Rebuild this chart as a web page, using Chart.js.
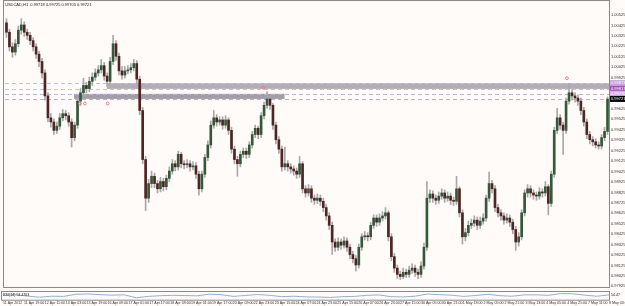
<!DOCTYPE html>
<html>
<head>
<meta charset="utf-8">
<script src="https://cdn.jsdelivr.net/npm/chart.js@4.4.1/dist/chart.umd.min.js"></script>
<style>
  html, body { margin: 0; padding: 0; background: #fffbf9; }
  #wrap { position: relative; width: 625px; height: 306px; overflow: hidden; background: #fffbf9; }
  canvas { position: absolute; left: 0; }
  #main { top: 0; }
  #ind { top: 291px; }
</style>
</head>
<body>
<div id="wrap">
  <canvas id="main" width="625" height="292"></canvas>
  <canvas id="ind" width="625" height="15"></canvas>
</div>
<script>
// USDCAD candles (one candle per ~3 px)
const opens = [
  1.0045, 1.0036, 1.0022, 1.0017, 1.0025, 1.0038, 1.0043, 1.0036, 1.0033, 1.0028,
  1.0022, 1.0015, 1.0008, 0.9997, 0.9975, 0.9954, 0.9950, 0.9942, 0.9946, 0.9954,
  0.9958, 0.9956, 0.9950, 0.9935, 0.9947, 0.9970, 0.9978, 0.9985, 0.9982, 0.9989,
  0.9993, 0.9997, 1.0000, 1.0004, 0.9994, 0.9989, 1.0008, 1.0025, 1.0013, 0.9999,
  0.9995, 0.9999, 1.0000, 1.0002, 1.0006, 0.9991, 0.9961, 0.9914, 0.9877, 0.9891,
  0.9898, 0.9891, 0.9886, 0.9893, 0.9888, 0.9896, 0.9903, 0.9910, 0.9907, 0.9919,
  0.9910, 0.9909, 0.9910, 0.9907, 0.9908, 0.9900, 0.9886, 0.9900, 0.9916, 0.9928,
  0.9947, 0.9954, 0.9950, 0.9952, 0.9947, 0.9952, 0.9942, 0.9924, 0.9914, 0.9910,
  0.9919, 0.9922, 0.9919, 0.9928, 0.9938, 0.9944, 0.9938, 0.9956, 0.9966, 0.9972,
  0.9966, 0.9947, 0.9933, 0.9924, 0.9907, 0.9910, 0.9907, 0.9905, 0.9903, 0.9900,
  0.9910, 0.9886, 0.9882, 0.9886, 0.9877, 0.9875, 0.9877, 0.9874, 0.9868, 0.9860,
  0.9851, 0.9835, 0.9830, 0.9835, 0.9832, 0.9836, 0.9830, 0.9823, 0.9819, 0.9813,
  0.9830, 0.9840, 0.9841, 0.9840, 0.9851, 0.9858, 0.9854, 0.9858, 0.9860, 0.9863,
  0.9840, 0.9821, 0.9810, 0.9804, 0.9802, 0.9806, 0.9804, 0.9808, 0.9810, 0.9806,
  0.9804, 0.9812, 0.9830, 0.9877, 0.9881, 0.9877, 0.9875, 0.9879, 0.9882, 0.9877,
  0.9879, 0.9875, 0.9874, 0.9886, 0.9863, 0.9840, 0.9844, 0.9851, 0.9853, 0.9856,
  0.9851, 0.9855, 0.9858, 0.9877, 0.9891, 0.9886, 0.9868, 0.9863, 0.9860, 0.9856,
  0.9858, 0.9854, 0.9847, 0.9835, 0.9840, 0.9863, 0.9882, 0.9886, 0.9882, 0.9880,
  0.9879, 0.9883, 0.9882, 0.9888, 0.9872, 0.9900, 0.9942, 0.9954, 0.9947, 0.9942,
  0.9970, 0.9978, 0.9975, 0.9973, 0.9970, 0.9961, 0.9950, 0.9938, 0.9933, 0.9931,
  0.9928, 0.9927, 0.9935, 0.9941
];
const highs = [
  1.0049, 1.0039, 1.0026, 1.0029, 1.0042, 1.0049, 1.0046, 1.0039, 1.0036, 1.0031,
  1.0025, 1.0018, 1.0011, 1.0000, 0.9978, 0.9958, 0.9953, 0.9950, 0.9958, 0.9962,
  0.9961, 0.9959, 0.9953, 0.9950, 0.9973, 0.9982, 0.9992, 0.9988, 0.9993, 0.9997,
  1.0001, 1.0004, 1.0010, 1.0007, 0.9997, 1.0012, 1.0033, 1.0028, 1.0016, 1.0003,
  1.0003, 1.0004, 1.0006, 1.0010, 1.0009, 0.9994, 0.9964, 0.9917, 0.9895, 0.9903,
  0.9901, 0.9894, 0.9897, 0.9896, 0.9899, 0.9907, 0.9914, 0.9913, 0.9922, 0.9921,
  0.9913, 0.9914, 0.9913, 0.9912, 0.9911, 0.9903, 0.9903, 0.9919, 0.9932, 0.9951,
  0.9961, 0.9957, 0.9955, 0.9955, 0.9956, 0.9954, 0.9945, 0.9927, 0.9917, 0.9922,
  0.9925, 0.9925, 0.9931, 0.9941, 0.9947, 0.9946, 0.9959, 0.9969, 0.9979, 0.9975,
  0.9968, 0.9950, 0.9936, 0.9927, 0.9926, 0.9913, 0.9910, 0.9908, 0.9906, 0.9917,
  0.9912, 0.9889, 0.9890, 0.9889, 0.9880, 0.9881, 0.9880, 0.9877, 0.9871, 0.9863,
  0.9854, 0.9838, 0.9839, 0.9838, 0.9840, 0.9839, 0.9833, 0.9826, 0.9822, 0.9833,
  0.9843, 0.9845, 0.9844, 0.9854, 0.9861, 0.9861, 0.9862, 0.9864, 0.9868, 0.9865,
  0.9843, 0.9824, 0.9813, 0.9807, 0.9810, 0.9809, 0.9812, 0.9814, 0.9813, 0.9809,
  0.9816, 0.9834, 0.9893, 0.9885, 0.9884, 0.9880, 0.9883, 0.9886, 0.9885, 0.9883,
  0.9882, 0.9878, 0.9898, 0.9888, 0.9866, 0.9848, 0.9855, 0.9857, 0.9860, 0.9859,
  0.9859, 0.9862, 0.9880, 0.9902, 0.9894, 0.9889, 0.9871, 0.9866, 0.9863, 0.9862,
  0.9861, 0.9857, 0.9850, 0.9844, 0.9866, 0.9885, 0.9890, 0.9889, 0.9885, 0.9883,
  0.9887, 0.9886, 0.9893, 0.9890, 0.9903, 0.9945, 0.9963, 0.9957, 0.9950, 0.9973,
  0.9987, 0.9981, 0.9978, 0.9976, 0.9973, 0.9964, 0.9953, 0.9941, 0.9936, 0.9934,
  0.9931, 0.9938, 0.9945, 0.9974
];
const lows = [
  1.0031, 1.0018, 1.0012, 1.0014, 1.0022, 1.0034, 1.0032, 1.0029, 1.0024, 1.0018,
  1.0011, 1.0003, 0.9992, 0.9971, 0.9950, 0.9945, 0.9938, 0.9939, 0.9943, 0.9951,
  0.9952, 0.9946, 0.9926, 0.9932, 0.9944, 0.9966, 0.9975, 0.9978, 0.9979, 0.9985,
  0.9990, 0.9994, 0.9997, 0.9990, 0.9984, 0.9986, 1.0005, 1.0009, 0.9995, 0.9991,
  0.9992, 0.9996, 0.9997, 0.9999, 0.9987, 0.9957, 0.9910, 0.9865, 0.9873, 0.9887,
  0.9887, 0.9882, 0.9883, 0.9884, 0.9885, 0.9893, 0.9900, 0.9903, 0.9904, 0.9906,
  0.9905, 0.9906, 0.9903, 0.9904, 0.9896, 0.9880, 0.9883, 0.9897, 0.9913, 0.9925,
  0.9944, 0.9946, 0.9947, 0.9943, 0.9944, 0.9938, 0.9920, 0.9910, 0.9898, 0.9907,
  0.9916, 0.9915, 0.9916, 0.9925, 0.9935, 0.9934, 0.9935, 0.9953, 0.9963, 0.9962,
  0.9943, 0.9929, 0.9920, 0.9903, 0.9904, 0.9903, 0.9901, 0.9899, 0.9896, 0.9897,
  0.9882, 0.9878, 0.9879, 0.9873, 0.9871, 0.9872, 0.9870, 0.9864, 0.9856, 0.9847,
  0.9823, 0.9826, 0.9827, 0.9828, 0.9829, 0.9826, 0.9819, 0.9815, 0.9807, 0.9810,
  0.9827, 0.9837, 0.9836, 0.9837, 0.9848, 0.9850, 0.9851, 0.9855, 0.9857, 0.9836,
  0.9817, 0.9806, 0.9800, 0.9799, 0.9800, 0.9801, 0.9801, 0.9805, 0.9802, 0.9800,
  0.9801, 0.9809, 0.9827, 0.9873, 0.9873, 0.9871, 0.9872, 0.9876, 0.9873, 0.9874,
  0.9871, 0.9870, 0.9871, 0.9859, 0.9833, 0.9836, 0.9841, 0.9848, 0.9850, 0.9847,
  0.9848, 0.9852, 0.9855, 0.9874, 0.9882, 0.9864, 0.9859, 0.9856, 0.9852, 0.9853,
  0.9850, 0.9843, 0.9827, 0.9831, 0.9837, 0.9860, 0.9878, 0.9878, 0.9876, 0.9875,
  0.9876, 0.9878, 0.9879, 0.9861, 0.9869, 0.9897, 0.9939, 0.9943, 0.9919, 0.9939,
  0.9967, 0.9971, 0.9969, 0.9966, 0.9957, 0.9946, 0.9934, 0.9929, 0.9927, 0.9925,
  0.9924, 0.9924, 0.9932, 0.9938
];
const closes = [
  1.0036, 1.0022, 1.0017, 1.0025, 1.0038, 1.0043, 1.0036, 1.0033, 1.0028, 1.0022,
  1.0015, 1.0008, 0.9997, 0.9975, 0.9954, 0.9950, 0.9942, 0.9946, 0.9954, 0.9958,
  0.9956, 0.9950, 0.9935, 0.9947, 0.9970, 0.9978, 0.9985, 0.9982, 0.9989, 0.9993,
  0.9997, 1.0000, 1.0004, 0.9994, 0.9989, 1.0008, 1.0025, 1.0013, 0.9999, 0.9995,
  0.9999, 1.0000, 1.0002, 1.0006, 0.9991, 0.9961, 0.9914, 0.9877, 0.9891, 0.9898,
  0.9891, 0.9886, 0.9893, 0.9888, 0.9896, 0.9903, 0.9910, 0.9907, 0.9919, 0.9910,
  0.9909, 0.9910, 0.9907, 0.9908, 0.9900, 0.9886, 0.9900, 0.9916, 0.9928, 0.9947,
  0.9954, 0.9950, 0.9952, 0.9947, 0.9952, 0.9942, 0.9924, 0.9914, 0.9910, 0.9919,
  0.9922, 0.9919, 0.9928, 0.9938, 0.9944, 0.9938, 0.9956, 0.9966, 0.9972, 0.9966,
  0.9947, 0.9933, 0.9924, 0.9907, 0.9910, 0.9907, 0.9905, 0.9903, 0.9900, 0.9910,
  0.9886, 0.9882, 0.9886, 0.9877, 0.9875, 0.9877, 0.9874, 0.9868, 0.9860, 0.9851,
  0.9835, 0.9830, 0.9835, 0.9832, 0.9836, 0.9830, 0.9823, 0.9819, 0.9813, 0.9830,
  0.9840, 0.9841, 0.9840, 0.9851, 0.9858, 0.9854, 0.9858, 0.9860, 0.9863, 0.9840,
  0.9821, 0.9810, 0.9804, 0.9802, 0.9806, 0.9804, 0.9808, 0.9810, 0.9806, 0.9804,
  0.9812, 0.9830, 0.9877, 0.9881, 0.9877, 0.9875, 0.9879, 0.9882, 0.9877, 0.9879,
  0.9875, 0.9874, 0.9886, 0.9863, 0.9840, 0.9844, 0.9851, 0.9853, 0.9856, 0.9851,
  0.9855, 0.9858, 0.9877, 0.9891, 0.9886, 0.9868, 0.9863, 0.9860, 0.9856, 0.9858,
  0.9854, 0.9847, 0.9835, 0.9840, 0.9863, 0.9882, 0.9886, 0.9882, 0.9880, 0.9879,
  0.9883, 0.9882, 0.9888, 0.9872, 0.9900, 0.9942, 0.9954, 0.9947, 0.9942, 0.9970,
  0.9978, 0.9975, 0.9973, 0.9970, 0.9961, 0.9950, 0.9938, 0.9933, 0.9931, 0.9928,
  0.9927, 0.9935, 0.9941, 0.9972
];

// price axis labels
const yTicks = [
  1.00525, 1.00425, 1.00325, 1.00225, 1.00125, 1.00025, 0.99925, 0.99825, 0.99725,
  0.99625, 0.99525, 0.99425, 0.99325, 0.99225, 0.99125, 0.99025, 0.98925, 0.98825,
  0.98725, 0.98625, 0.98525, 0.98425, 0.98325, 0.98225, 0.98125, 0.98025, 0.97925
];

// time axis labels
const xLabels = [
  "11 Apr 2012", "11 Apr 19:00", "12 Apr 11:00", "13 Apr 03:00", "13 Apr 19:00",
  "16 Apr 09:00", "17 Apr 01:00", "17 Apr 17:00", "18 Apr 09:00", "19 Apr 01:00",
  "19 Apr 17:00", "20 Apr 09:00", "22 Apr 23:00", "23 Apr 15:00", "24 Apr 07:00",
  "24 Apr 23:00", "25 Apr 15:00", "26 Apr 07:00", "26 Apr 23:00", "27 Apr 15:00",
  "30 Apr 05:00", "30 Apr 21:00", "1 May 13:00", "2 May 05:00", "2 May 21:00",
  "3 May 13:00", "4 May 05:00", "4 May 21:00", "7 May 11:00", "8 May 03:00"
];

// horizontal levels (dashed) and their axis tags
const levelPrices = [0.99873, 0.99817, 0.99770, 0.99721];
const levelTags = ["0.99873", "0.99817", "0.99770", "0.99721"];

// grey zones: price range + candle index range
const zoneTops = [0.99873, 0.99770];
const zoneBottoms = [0.99817, 0.99721];
const zoneStarts = [33.9, 22.8];
const zoneEnds = [203.5, 93.9];

// small red arrow marks
const markerIdx = [24.8, 26.5, 34.2, 86.8, 189.3];
const markerPrice = [0.99677, 0.99677, 0.99677, 0.99827, 0.99920];

// RSI sub window (one value per 4 candles)
const rsiValues = [
  48, 58, 42, 28, 40, 38, 62, 66, 58, 52, 56, 22, 38, 46, 50, 48, 44, 64, 58, 38,
  48, 60, 50, 35, 40, 32, 30, 26, 35, 38, 50, 55, 35, 32, 40, 65, 58, 52, 38, 48,
  62, 46, 40, 55, 56, 50, 70, 68, 52, 40, 55
];

const bg = "#fffbf9";
const frame = "#8a8a8a";
const bullColor = "#35573a";
const bearColor = "#4f2424";
const wickColor = "#a9a7a7";

const wickData = highs.map((h, i) => ({ x: i, y: [lows[i], h] }));
const bodyData = closes.map((c, i) => ({ x: i, y: [opens[i], c] }));
const markerData = markerIdx.map((x, i) => ({ x: x, y: markerPrice[i] }));

// zones, dashed levels, frame, title and axis tags
const overlay = {
  id: "overlay",
  beforeDatasetsDraw(chart) {
    const { ctx, chartArea: a, scales } = chart;
    const x = scales.x, y = scales.y;
    ctx.save();
    zoneTops.forEach((top, i) => {
      const x0 = x.getPixelForValue(zoneStarts[i]);
      const x1 = Math.min(x.getPixelForValue(zoneEnds[i]), a.right);
      const y0 = y.getPixelForValue(top);
      const y1 = y.getPixelForValue(zoneBottoms[i]);
      ctx.fillStyle = i === 0 ? "#b3aeb6" : "#a29ea6";
      ctx.fillRect(x0, y0, x1 - x0, y1 - y0);
    });
    ctx.setLineDash([4, 3]);
    ctx.lineWidth = 1;
    levelPrices.forEach((p, i) => {
      const py = Math.round(y.getPixelForValue(p)) + 0.5;
      ctx.strokeStyle = i < 2 ? "#c9c2d2" : "#c4acd6";
      ctx.beginPath();
      ctx.moveTo(a.left, py);
      ctx.lineTo(a.right, py);
      ctx.stroke();
    });
    ctx.restore();
  },
  afterDraw(chart) {
    const { ctx, chartArea: a, scales } = chart;
    const y = scales.y;
    ctx.save();
    ctx.strokeStyle = frame;
    ctx.lineWidth = 1;
    ctx.strokeRect(a.left - 1.5, 0.5, a.right - a.left + 2, a.bottom);
    // title
    ctx.fillStyle = "#222";
    ctx.font = "4px 'Liberation Sans', Arial, sans-serif";
    ctx.textBaseline = "middle";
    ctx.fillText("USDCAD,H1  0.99718 0.99725 0.99705 0.99721", a.left, 4.5);
    // tags on the price axis
    const tagColors = ["#c9a3dc", "#a553bb", "#d2aee2", "#000000"];
    levelPrices.forEach((p, i) => {
      const py = y.getPixelForValue(p);
      ctx.fillStyle = tagColors[i];
      ctx.fillRect(a.right + 1, py - 3, 625 - a.right, 6);
      ctx.fillStyle = "#ffffff";
      ctx.fillText(levelTags[i], a.right + 2, py + 0.2);
    });
    ctx.restore();
  }
};

new Chart(document.getElementById("main").getContext("2d"), {
  type: "bar",
  data: {
    datasets: [
      {
        data: wickData,
        backgroundColor: wickColor,
        barThickness: 1,
        grouped: false,
        order: 2
      },
      {
        data: bodyData,
        backgroundColor: (c) => (closes[c.dataIndex] >= opens[c.dataIndex] ? bullColor : bearColor),
        barThickness: 2,
        minBarLength: 1,
        grouped: false,
        order: 1
      },
      {
        type: "scatter",
        data: markerData,
        pointStyle: "circle",
        radius: 1.4,
        borderWidth: 1,
        borderColor: "#e27e7e",
        backgroundColor: "rgba(0,0,0,0)",
        order: 0
      }
    ]
  },
  options: {
    responsive: false,
    animation: false,
    layout: { padding: { left: 3, top: 2, right: 0, bottom: 1 } },
    plugins: { legend: { display: false }, tooltip: { enabled: false } },
    scales: {
      x: { type: "linear", display: false, min: -0.5, max: 203.5, offset: false },
      y: {
        position: "right",
        min: 0.97919,
        max: 1.00621,
        grid: { display: false, drawTicks: false },
        border: { display: false },
        afterBuildTicks: (s) => { s.ticks = yTicks.map((v) => ({ value: v })); },
        afterFit: (s) => { s.width = 16; s.paddingTop = 0; s.paddingBottom = 0; },
        ticks: {
          autoSkip: false,
          padding: 2,
          color: "#333",
          font: { size: 4, family: "'Liberation Sans', Arial, sans-serif" },
          callback: (v) => Number(v).toFixed(5)
        }
      }
    }
  },
  plugins: [overlay]
});

// RSI strip with the time axis under it
const indFrame = {
  id: "indFrame",
  afterDraw(chart) {
    const { ctx, chartArea: a } = chart;
    ctx.save();
    ctx.strokeStyle = frame;
    ctx.lineWidth = 1;
    ctx.strokeRect(a.left - 1.5, a.top + 0.5, a.right - a.left + 2, a.bottom - a.top);
    ctx.fillStyle = "#222";
    ctx.font = "3.6px 'Liberation Sans', Arial, sans-serif";
    ctx.textBaseline = "middle";
    ctx.fillText("RSI(14) 54.4763", a.left, a.top + 4);
    ctx.fillText("54.47", a.right + 2, a.top + 4);
    ctx.restore();
  }
};

new Chart(document.getElementById("ind").getContext("2d"), {
  type: "line",
  data: {
    datasets: [
      {
        data: rsiValues,
        xAxisID: "xr",
        borderColor: "#8fb2d4",
        borderWidth: 1,
        pointRadius: 0,
        tension: 0
      }
    ]
  },
  options: {
    responsive: false,
    animation: false,
    layout: { padding: { left: 3, top: 0, right: 16, bottom: 0 } },
    plugins: { legend: { display: false }, tooltip: { enabled: false } },
    scales: {
      xr: { type: "category", labels: rsiValues.map((_, i) => String(i)), display: false, offset: false },
      x: {
        type: "category",
        labels: xLabels,
        position: "bottom",
        offset: false,
        grid: { display: false, drawTicks: false },
        border: { display: false },
        afterFit: (s) => { s.paddingLeft = 0; s.paddingRight = 0; },
        ticks: {
          autoSkip: false,
          maxRotation: 0,
          minRotation: 0,
          align: "start",
          padding: 1,
          color: "#333",
          font: { size: 3.6, family: "'Liberation Sans', Arial, sans-serif" }
        }
      },
      y: { display: false, min: 0, max: 100 }
    }
  },
  plugins: [indFrame]
});
</script>
</body>
</html>
